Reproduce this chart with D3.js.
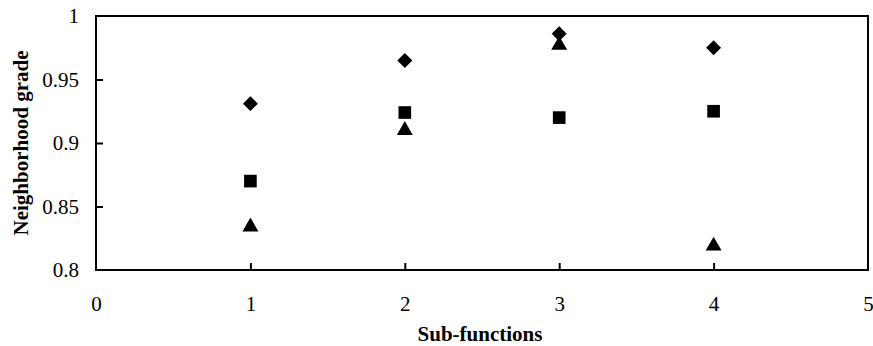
<!DOCTYPE html>
<html lang="en">
<head>
<meta charset="UTF-8">
<title>Neighborhood grade</title>
<script src="https://d3js.org/d3.v7.min.js"></script>
<style>
body { margin: 0; background: #fff; }
svg text { font-family: "Liberation Serif", "Times New Roman", serif; fill: #000; }
.tick text { font-size: 21px; }
.title { font-size: 21px; font-weight: bold; }
</style>
</head>
<body>
<div id="chart"></div>
<script>
// data
var subFunctions = [1, 2, 3, 4];
var diamondVals = [0.931, 0.965, 0.986, 0.975];
var squareVals = [0.870, 0.924, 0.920, 0.925];
var triangleVals = [0.834, 0.910, 0.977, 0.819];
var xTicks = [0, 1, 2, 3, 4, 5];
var yTicks = [0.8, 0.85, 0.9, 0.95, 1];

var width = 873, height = 346;
var padding = {left: 96, right: 5, top: 16, bottom: 76};

var svg = d3.select("#chart").append("svg")
    .attr("width", width)
    .attr("height", height);

var xScale = d3.scaleLinear().domain([0, 5])
    .range([padding.left, width - padding.right]);
var yScale = d3.scaleLinear().domain([0.8, 1])
    .range([height - padding.bottom, padding.top]);

// frame
svg.append("rect")
    .attr("x", xScale(0)).attr("y", yScale(1))
    .attr("width", xScale(5) - xScale(0))
    .attr("height", yScale(0.8) - yScale(1))
    .attr("fill", "none").attr("stroke", "#000").attr("stroke-width", 2);

var xAxis = d3.axisBottom(xScale).tickValues(xTicks)
    .tickFormat(d3.format("d")).tickSizeInner(-7).tickSizeOuter(0).tickPadding(26);
var yAxis = d3.axisLeft(yScale).tickValues(yTicks)
    .tickFormat(function(d){ return String(+d.toFixed(2)); })
    .tickSizeInner(-7).tickSizeOuter(0).tickPadding(17);

var gx = svg.append("g")
    .attr("transform", "translate(0," + yScale(0.8) + ")")
    .call(xAxis);
var gy = svg.append("g")
    .attr("transform", "translate(" + xScale(0) + ",0)")
    .call(yAxis);
[gx, gy].forEach(function(g){
    g.attr("font-family", null).attr("font-size", null);
    g.select(".domain").remove();
    g.selectAll(".tick line").attr("stroke", "#000").attr("stroke-width", 2);
});
gx.select(".tick:first-of-type line").remove();
gx.select(".tick:last-of-type line").remove();
gy.select(".tick:first-of-type line").remove();
gy.select(".tick:last-of-type line").remove();

// markers
var series = [
    {vals: diamondVals, type: d3.symbolSquare, size: 112, rot: 45},
    {vals: squareVals, type: d3.symbolSquare, size: 160, rot: 0},
    {vals: triangleVals, type: d3.symbolTriangle, size: 110, rot: 0}
];
series.forEach(function(s){
    svg.append("g").selectAll("path")
        .data(subFunctions)
        .enter().append("path")
        .attr("d", d3.symbol().type(s.type).size(s.size))
        .attr("transform", function(d, i){
            return "translate(" + xScale(d) + "," + yScale(s.vals[i]) + ") rotate(" + s.rot + ")";
        })
        .attr("fill", "#000");
});

// titles
svg.append("text").attr("class", "title")
    .attr("x", 480)
    .attr("y", 341)
    .attr("text-anchor", "middle")
    .text("Sub-functions");

svg.append("text").attr("class", "title")
    .attr("transform", "translate(28," + ((yScale(0.8) + yScale(1)) / 2) + ") rotate(-90)")
    .attr("text-anchor", "middle")
    .text("Neighborhood grade");
</script>
</body>
</html>
